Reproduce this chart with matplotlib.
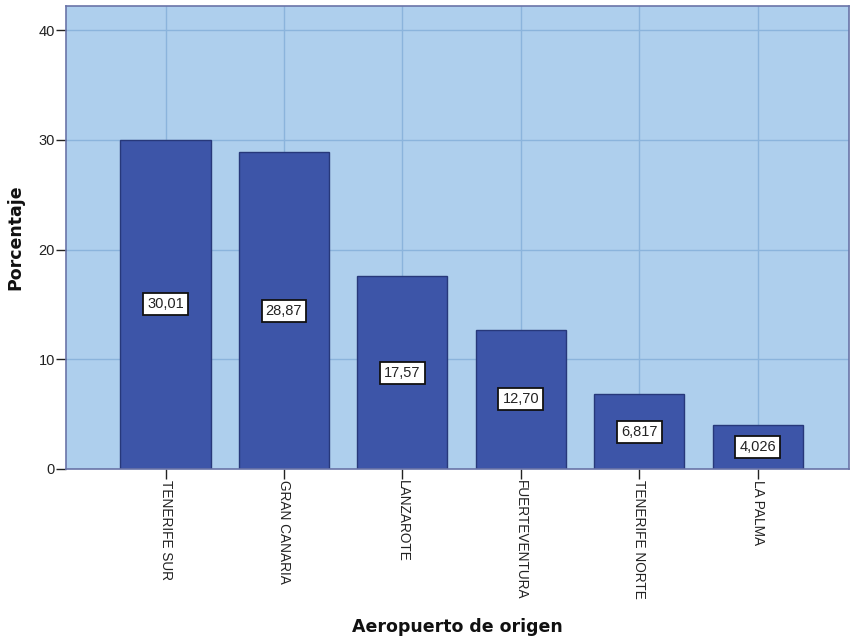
import matplotlib
matplotlib.use("Agg")
import matplotlib.pyplot as plt

categories = ["TENERIFE SUR", "GRAN CANARIA", "LANZAROTE", "FUERTEVENTURA", "TENERIFE NORTE", "LA PALMA"]
values = [30.01, 28.87, 17.57, 12.70, 6.817, 4.026]
labels = ["30,01", "28,87", "17,57", "12,70", "6,817", "4,026"]
yticks = [0, 10, 20, 30, 40]

plt.rcParams['font.family'] = ['Liberation Sans', 'DejaVu Sans']

fig = plt.figure(figsize=(8.5, 6.38), dpi=100)
ax = fig.add_axes([66/850, 1-469/638, (849-66)/850, (469-6)/638])
ax.set_facecolor('#AECFED')
x = list(range(len(categories)))
ax.set_axisbelow(True)
ax.grid(True, color='#8BB4DC', linewidth=1.0)
ax.bar(x, values, width=0.76, color='#3D55A8', edgecolor='#27387A', linewidth=1.0, zorder=2)
for xi, v, lab in zip(x, values, labels):
    ax.text(xi, v/2, lab, ha='center', va='center', fontsize=10.5, color='#222222', zorder=3,
            bbox=dict(boxstyle='square,pad=0.28', facecolor='white', edgecolor='#111111', linewidth=1.3))
ax.set_xlim(-0.84, 5.77)
ax.set_ylim(0, 42.2)
ax.set_yticks(yticks)
ax.set_yticklabels([str(t) for t in yticks], fontsize=10.5, color='#222222')
ax.set_xticks(x)
ax.set_xticklabels(categories, rotation=-90, fontsize=9.8, va='top', ha='center', color='#222222')
ax.tick_params(axis='both', length=7, width=1, color='#222222', pad=1)
for s in ax.spines.values():
    s.set_color('#6A74A8')
    s.set_linewidth(1.2)
ax.set_ylabel('Porcentaje', fontsize=12.5, fontweight='bold', family='DejaVu Sans', color='#111111')
ax.set_xlabel('Aeropuerto de origen', fontsize=12.5, fontweight='bold', family='DejaVu Sans', color='#111111')
ax.yaxis.set_label_coords(-0.053, 0.5)
ax.xaxis.set_label_coords(0.5, -0.321)
fig.savefig('out.png', dpi=100)
